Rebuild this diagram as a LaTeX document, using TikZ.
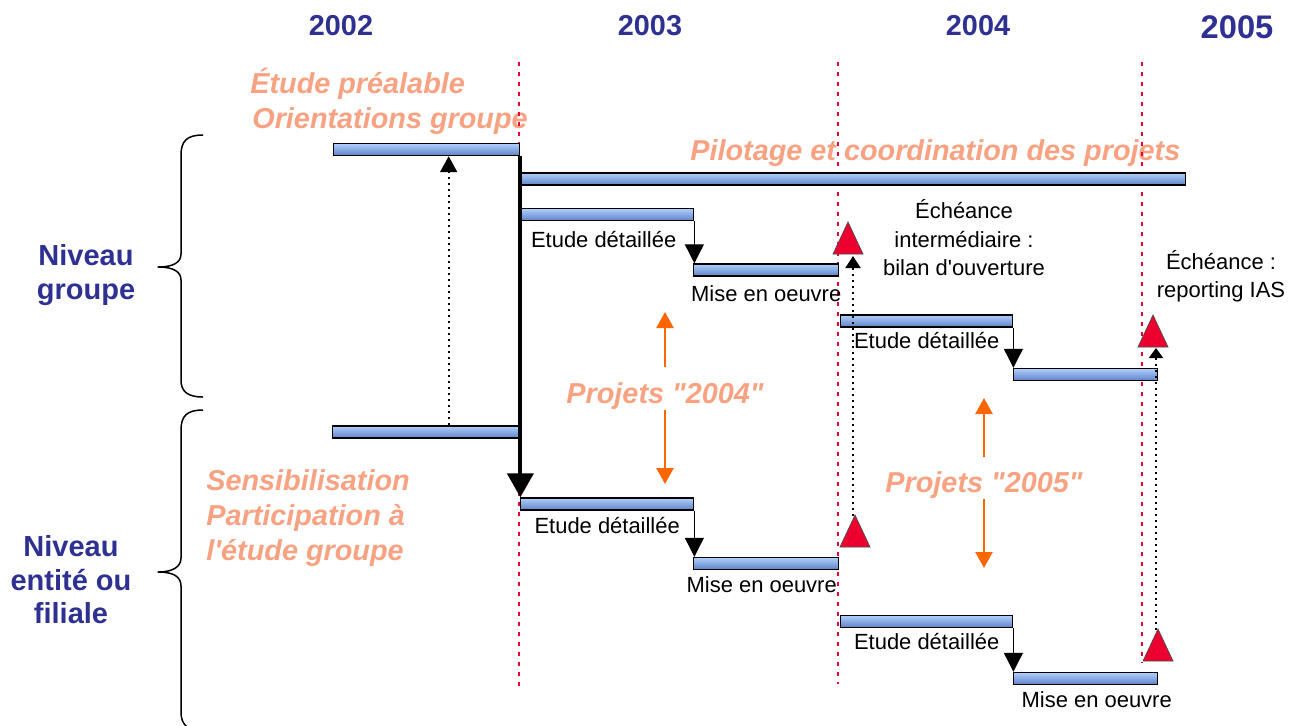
\documentclass[tikz,border=0pt]{standalone}
\usepackage{fontspec}
\setmainfont{Liberation Sans}[Ligatures=TeXOff]
\usepackage{xcolor}
\usetikzlibrary{arrows.meta, positioning, calc}

\definecolor{navy}{RGB}{46,49,146}
\definecolor{saumon}{RGB}{248,162,130}
\definecolor{orangevif}{RGB}{255,102,0}
\definecolor{rouge}{RGB}{236,0,48}
\definecolor{barhaut}{RGB}{175,208,250}
\definecolor{barbas}{RGB}{95,130,200}

\begin{document}
\begin{tikzpicture}[
    x=0.02cm, y=-0.02cm,
    bar/.style={rectangle, draw, line width=0.8pt, top color=barhaut, bottom color=barbas, minimum height=0.24cm, inner sep=0pt, anchor=west},
    year/.style={font=\fontsize{16.4}{20}\selectfont\bfseries, text=navy},
    niveau/.style={font=\fontsize{16.5}{19}\selectfont\bfseries, text=navy, align=center, inner sep=0pt},
    note/.style={font=\fontsize{16.4}{19.9}\selectfont\bfseries\itshape, text=saumon, inner sep=0pt},
    lbl/.style={font=\fontsize{12.5}{15.9}\selectfont, inner sep=0pt, text height=0.72em, text depth=0.22em},
    echtxt/.style={font=\fontsize{12.5}{16.2}\selectfont, align=center, inner sep=0pt},
    echeance/.style={rouge, line width=0.04cm, dash pattern=on 0.08cm off 0.12cm},
    mainarrow/.style={-{Triangle[width=0.52cm, length=0.48cm]}, line width=0.08cm},
    steparrow/.style={-{Triangle[width=0.38cm, length=0.38cm]}, line width=0.6pt},
    dotarrow/.style={-{Triangle[width=0.34cm, length=0.32cm]}, line width=0.04cm, dash pattern=on 0.04cm off 0.08cm},
    projarrow/.style={-{Triangle[width=0.34cm, length=0.32cm]}, orangevif, line width=0.05cm},
    jalon/.style={fill=rouge, draw=black!70, line width=0.4pt},
    accolade/.style={line width=0.03cm, line join=round}
]
    \useasboundingbox (0,0) rectangle (1309,725);
    \clip (0,0) rectangle (1309,725);

    % annees
    \node[year] (a2002) at (341,26) {2002};
    \node[year] (a2003) at (650,26) {2003};
    \node[year] (a2004) at (978,26) {2004};
    \node[year, font=\fontsize{18.6}{22}\selectfont\bfseries] (a2005) at (1237,27) {2005};

    % textes orange
    \node[note, anchor=base west] (preal) at (250,93) {Étude préalable};
    \node[note, anchor=base west] (orient) at (252,128) {Orientations groupe};
    \node[note, anchor=base west] (pilot) at (690,160) {Pilotage et coordination des projets};
    \node[note, anchor=west, align=left] (sensibtxt) at (206,518) {Sensibilisation\\Participation à\\l'étude groupe};

    % echeances annuelles
    \foreach \x/\yfin in {519/686, 838/684, 1142/662}
        \draw[echeance] (\x,62) -- (\x,\yfin);

    % barres
    \node[bar, minimum width=3.72cm] (prealable) at (333,149.5) {};
    \node[bar, minimum width=13.3cm] (pilotage) at (520,179) {};
    \node[bar, minimum width=3.46cm] (etudeG1) at (520,214.5) {};
    \node[bar, minimum width=2.9cm] (miseG1) at (693,270) {};
    \node[bar, minimum width=3.44cm] (etudeG2) at (840,321) {};
    \node[bar, minimum width=2.88cm] (miseG2) at (1013,374.5) {};
    \node[bar, minimum width=3.72cm] (sensib) at (332,432) {};
    \node[bar, minimum width=3.46cm] (etudeE1) at (520,504) {};
    \node[bar, minimum width=2.9cm] (miseE1) at (693,563.5) {};
    \node[bar, minimum width=3.44cm] (etudeE2) at (840,621.5) {};
    \node[bar, minimum width=2.88cm] (miseE2) at (1013,678.5) {};

    % libelles des barres
    \node[lbl, below=0.27cm of etudeG1, xshift=-0.07cm] (lEG1) {Etude détaillée};
    \node[lbl, below=0.24cm of miseG1] (lMG1) {Mise en oeuvre};
    \node[lbl, below=0.16cm of etudeG2] (lEG2) {Etude détaillée};
    \node[lbl, below=0.2cm of etudeE1] (lEE1) {Etude détaillée};
    \node[lbl, below=0.18cm of miseE1, xshift=-0.09cm] (lME1) {Mise en oeuvre};
    \node[lbl, below=0.16cm of etudeE2] (lEE2) {Etude détaillée};
    \node[lbl, below=0.18cm of miseE2, xshift=0.22cm] (lME2) {Mise en oeuvre};

    % fleches
    \draw[mainarrow] (prealable.south east) -- (prealable.south east |- etudeE1.north);
    \draw[dotarrow] ([xshift=0.46cm]sensib.north) -- ([xshift=0.46cm]sensib.north |- prealable.south);
    \draw[steparrow] (etudeG1.south east) -- (etudeG1.south east |- miseG1.north);
    \draw[steparrow] (etudeG2.south east) -- (etudeG2.south east |- miseG2.north);
    \draw[steparrow] (etudeE1.south east) -- (etudeE1.south east |- miseE1.north);
    \draw[steparrow] (etudeE2.south east) -- (etudeE2.south east |- miseE2.north);

    % jalons
    \coordinate (jalonG1) at (848,238);
    \coordinate (jalonG2) at (1153,331);
    \coordinate (jalonE1) at (855,531);
    \coordinate (jalonE2) at (1158,645);
    \foreach \j in {jalonG1, jalonG2, jalonE1, jalonE2}
        \filldraw[jalon] (\j) ++(-15,16) -- ++(15,-32) -- ++(15,32) -- cycle;
    \draw[dotarrow, -{Triangle[width=0.3cm, length=0.24cm]}] ($(jalonE1)+(-2,-15)$) -- ($(jalonE1 |- jalonG1)+(-2,18)$);
    \draw[dotarrow, -{Triangle[width=0.28cm, length=0.2cm]}] ($(jalonE2)+(-2,-15)$) -- ($(jalonE2 |- jalonG2)+(-2,17)$);

    \node[echtxt] (echInter) at (964,238) {Échéance\\intermédiaire :\\bilan d'ouverture};
    \node[echtxt] (echIAS) at (1221,276) {Échéance :\\reporting IAS};

    % projets
    \node[note] (proj2004) at (665,396) {Projets "2004"};
    \coordinate (p04haut) at (665,312);
    \coordinate (p04bas) at (665,484);
    \draw[projarrow, shorten <=0.3cm] (proj2004.north) -- (p04haut);
    \draw[projarrow] (proj2004.south) -- (p04bas);

    \node[note] (proj2005) at (984,485) {Projets "2005"};
    \coordinate (p05haut) at (984,398);
    \coordinate (p05bas) at (984,568);
    \draw[projarrow, shorten <=0.28cm] (proj2005.north) -- (p05haut);
    \draw[projarrow] (proj2005.south) -- (p05bas);

    % niveaux
    \draw[accolade] (203,135) .. controls (187,135) and (181,141) .. (181,155) -- (181,254)
        .. controls (181,262) and (174,267) .. (158,267) .. controls (174,267) and (181,272) .. (181,280)
        -- (181,380) .. controls (181,391) and (187,397) .. (203,397);
    \draw[accolade] (203,410) .. controls (187,410) and (181,416) .. (181,430) -- (181,558)
        .. controls (181,566) and (174,572) .. (158,572) .. controls (174,572) and (181,577) .. (181,586)
        -- (181,712) .. controls (181,724) and (187,731) .. (203,731);
    \node[niveau] (nivG) at (86,275) {Niveau\\groupe};
    \node[niveau] (nivE) at (71,580) {Niveau\\entité ou\\filiale};
\end{tikzpicture}
\end{document}
